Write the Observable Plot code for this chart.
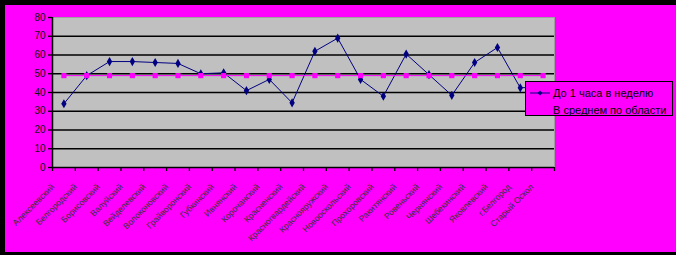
<!DOCTYPE html>
<html>
<head>
<meta charset="utf-8">
<script src="https://cdn.jsdelivr.net/npm/d3@7"></script>
<script src="https://cdn.jsdelivr.net/npm/@observablehq/plot@0.6"></script>
<style>
  body { margin: 0; background: #ff00ff; }
  #wrap { position: relative; width: 676px; height: 255px; box-sizing: border-box;
          background: #ff00ff; border-top: 5px solid #000; border-left: 5px solid #000;
          border-bottom: 3px solid #000; overflow: hidden; font-family: "Liberation Sans", Arial, sans-serif; }
  #chart svg { display: block; }
  #legend { position: absolute; left: 520px; top: 76px; width: 146px; height: 33px;
            border: 1px solid #000; background: #ff00ff; font-size: 11px; color: #000; }
  #legend .row { position: absolute; left: 0; right: 0; height: 14px; line-height: 14px; white-space: nowrap; }
  #legend .row span { position: absolute; left: 27px; }
  #legend svg { position: absolute; left: 4px; top: 2px; }
</style>
</head>
<body>
<div id="wrap">
  <div id="chart"></div>
  <div id="legend">
    <div class="row" style="top:4px;">
      <svg width="22" height="10"><line x1="0" y1="5" x2="20" y2="5" stroke="#000080" stroke-width="1"/><path d="M10,2.5L12.5,5L10,7.5L7.5,5Z" fill="#000080"/></svg>
      <span id="s1"></span>
    </div>
    <div class="row" style="top:21px;"><span id="s2"></span></div>
  </div>
</div>
<script>
const categories = [
  "Алексеевский", "Белгородский", "Борисовский", "Валуйский", "Вейделевский",
  "Волоконовский", "Грайворонский", "Губкинский", "Ивнянский", "Корочанский",
  "Красненский", "Красногвардейский", "Краснояружский", "Новооскольский",
  "Прохоровский", "Ракитянский", "Ровеньский", "Чернянский", "Шебекинский",
  "Яковлевский", "г.Белгород", "Старый Оскол"
];
const seriesNames = ["До 1 часа в неделю", "В среднем по области"];
const upToOneHour = [34, 49, 56.5, 56.5, 56, 55.5, 50, 50.5, 41, 47, 34.5, 62, 69, 47, 38, 60.5, 49.5, 38.5, 56, 64, 42.5, 43];
const regionAverage = [49, 49, 49, 49, 49, 49, 49, 49, 49, 49, 49, 49, 49, 49, 49, 49, 49, 49, 49, 49, 49, 49];
const yTicks = [0, 10, 20, 30, 40, 50, 60, 70, 80];
const gridLines = [10, 20, 30, 40, 50, 60, 70];

document.getElementById("s1").textContent = seriesNames[0];
document.getElementById("s2").textContent = seriesNames[1];

const pos = (d, i) => i + 0.5;
const n = categories.length;

const chart = Plot.plot({
  width: 671,
  height: 247,
  marginLeft: 47,
  marginRight: 122,
  marginTop: 12,
  marginBottom: 85,
  x: { domain: [0, n], axis: null },
  y: { domain: [0, 80], axis: null },
  style: { background: "transparent", fontFamily: "Liberation Sans, Arial, sans-serif", overflow: "visible" },
  marks: [
    Plot.frame({ fill: "#c0c0c0", stroke: "#a0a0a0" }),
    Plot.ruleY(gridLines, { stroke: "#000", strokeWidth: 1.3 }),
    Plot.ruleY([0], { stroke: "#000", strokeWidth: 1.5 }),
    Plot.ruleX([0], { stroke: "#000", strokeWidth: 1.5 }),
    Plot.axisY({ ticks: yTicks, tickSize: 4, tickPadding: 3, fontSize: 10, stroke: "#000", fill: "#111", strokeWidth: 1.3 }),
    Plot.axisX({ ticks: d3.range(n + 1), tickSize: 4, tickFormat: () => "", stroke: "#000", strokeWidth: 1.3 }),
    Plot.text(categories, { x: pos, y: () => 0, text: d => d, rotate: -45, textAnchor: "end",
      lineAnchor: "middle", dx: -11, dy: 18, fontSize: 8.5, fill: "#333" }),
    Plot.line(upToOneHour, { x: pos, y: d => d, stroke: "#000080", strokeWidth: 1 }),
    Plot.dot(upToOneHour, { x: pos, y: d => d, symbol: "diamond", r: 2.8, fill: "#000080" }),
    Plot.line(regionAverage, { x: pos, y: d => d, stroke: "#ff00ff", strokeWidth: 1 }),
    Plot.dot(regionAverage, { x: pos, y: d => d, symbol: "square", r: 2.9, fill: "#ff00ff" })
  ]
});
document.getElementById("chart").appendChild(chart);
</script>
</body>
</html>
